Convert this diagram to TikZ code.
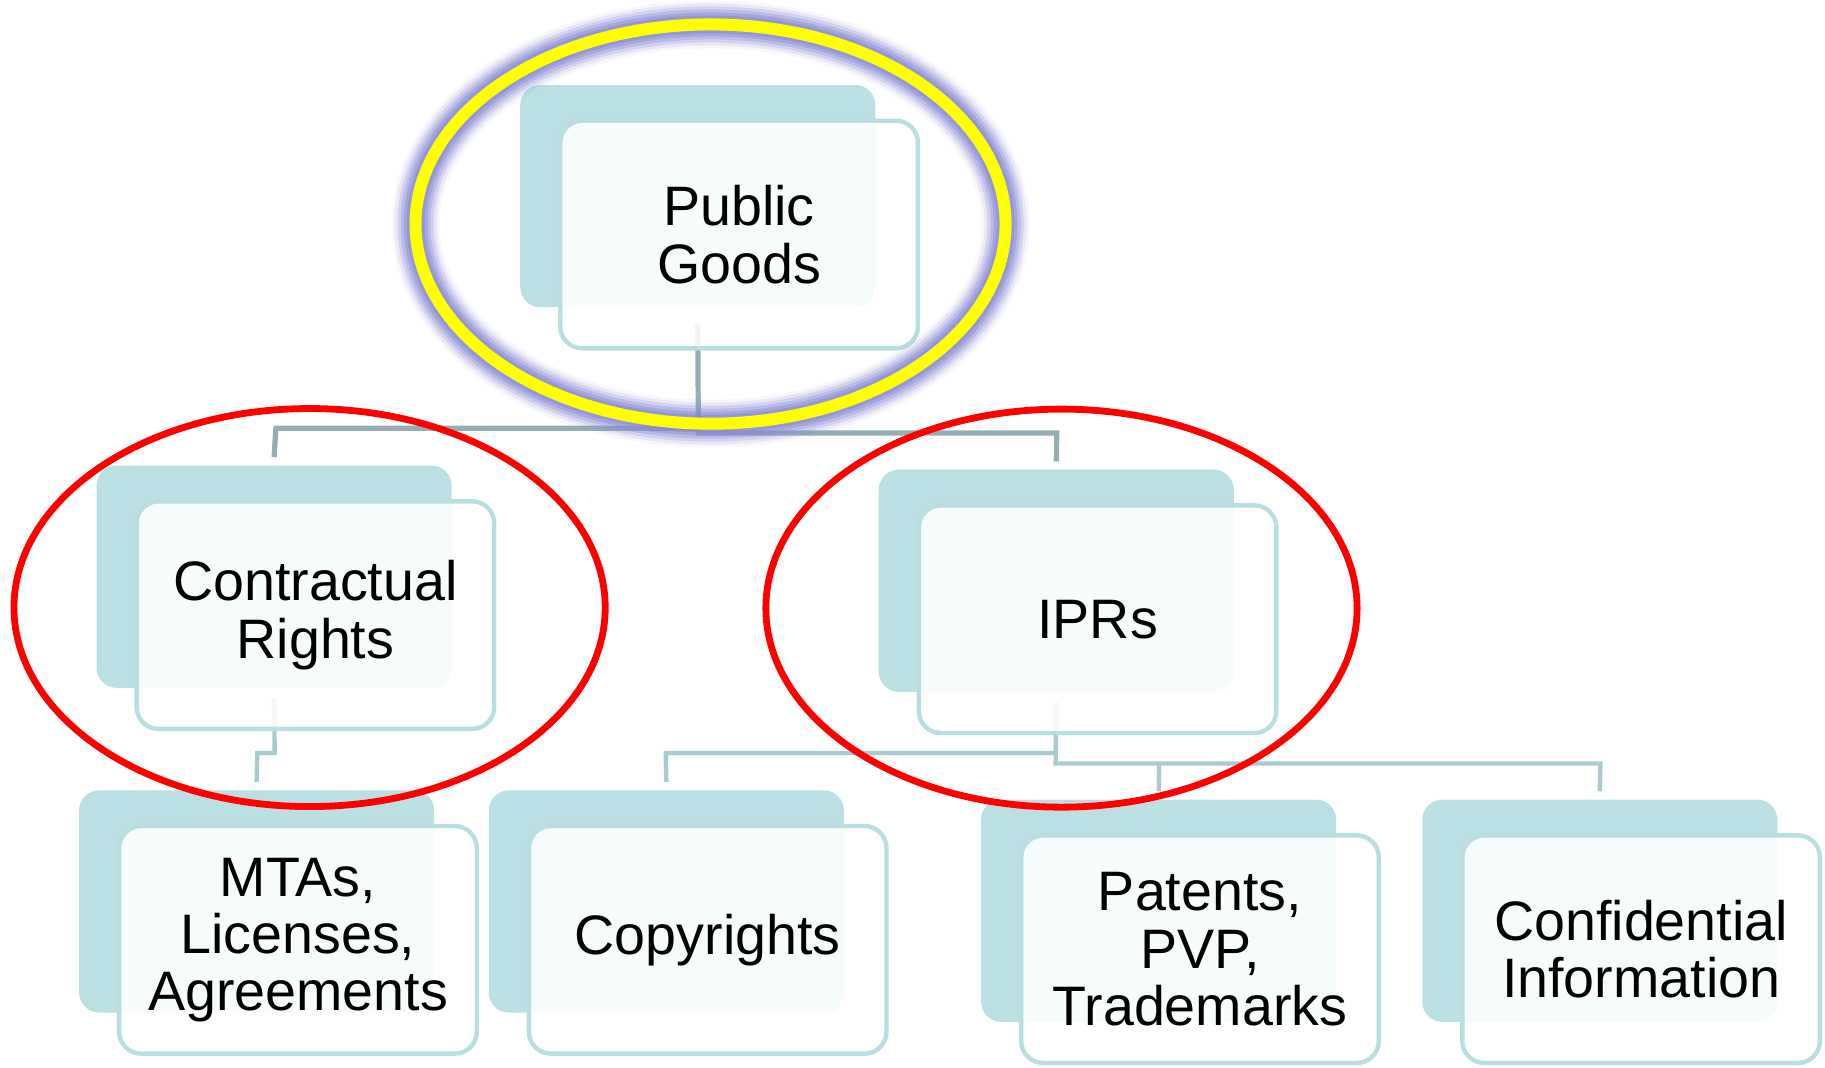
\documentclass[tikz,border=0pt]{standalone}
\usepackage{fontspec}
\setmainfont{Liberation Sans}
\definecolor{backc}{HTML}{BAE0E3}
\definecolor{frontbd}{HTML}{B8DEE2}
\definecolor{connA}{HTML}{94AEB4}
\definecolor{connB}{HTML}{A9CBCF}
\definecolor{glowc}{HTML}{8A8AD6}
\definecolor{ringY}{HTML}{FFFF00}
\definecolor{ringR}{HTML}{FF0000}
\tikzset{
  backbox/.style={rectangle, rounded corners=10pt, fill=backc, draw=none,
    minimum width=177.5pt, minimum height=111.1pt, inner sep=0pt},
  frontbox/.style={rectangle, rounded corners=11pt, fill=white, fill opacity=0.88,
    text opacity=1, draw=frontbd, line width=2.2pt,
    minimum width=178.8pt, minimum height=113.8pt, inner sep=0pt,
    align=center, font=\fontsize{27.8}{28.6}\selectfont},
  connhi/.style={draw=connA, line width=2.6pt},
  connlo/.style={draw=connB, line width=2.2pt},
  redring/.style={draw=ringR, line width=3.4pt},
}
\begin{document}
\begin{tikzpicture}[x=0.5819pt, y=-0.5819pt]
\useasboundingbox (0,0) rectangle (1568,917);
\coordinate (pgc) at (635,201.5);
\coordinate (crc) at (271,528.5);
\coordinate (ipc) at (943,532);
\coordinate (mtc) at (256,807.5);
\coordinate (coc) at (608,807.5);
\coordinate (pac) at (1031,815.5);
\coordinate (cfc) at (1410,815.5);
% junction coordinates
\coordinate (jpg) at (600,372);
\coordinate (jl) at (600,368);
\coordinate (jcr) at (237,368);
\coordinate (jip) at (908,372);
\coordinate (jcm1) at (236,647);
\coordinate (jcm2) at (221,647);
\coordinate (jil) at (907,647);
\coordinate (jco) at (572,647);
\coordinate (jir) at (907,656);
\coordinate (jpa) at (996,656);
\coordinate (jcf) at (1375,656);
% back box nodes
\node[backbox] (pgb) at ([shift={(-35.5,-33)}]pgc) {};
\node[backbox] (crb) at ([shift={(-35.5,-33)}]crc) {};
\node[backbox] (ipb) at ([shift={(-35.5,-33)}]ipc) {};
\node[backbox] (mtb) at ([shift={(-35.5,-33)}]mtc) {};
\node[backbox] (cob) at ([shift={(-35.5,-33)}]coc) {};
\node[backbox] (pab) at ([shift={(-35.5,-33)}]pac) {};
\node[backbox] (cfb) at ([shift={(-35.5,-33)}]cfc) {};
% connectors
\draw[connhi] ([yshift=-8pt]pgb.south) -- (jpg) -- (jip) -- ([yshift=4pt]ipb.north);
\draw[connhi] (jl) -- (jcr) -- ([yshift=4pt]crb.north);
\draw[connlo] ([yshift=-5pt]crb.south) -- (jcm1) -- (jcm2) -- ([yshift=4pt]mtb.north);
\draw[connlo] ([yshift=-5pt]ipb.south) -- (jir) -- (jcf) -- ([yshift=4pt]cfb.north);
\draw[connlo] (jil) -- (jco) -- ([yshift=4pt]cob.north);
\draw[connlo] (jpa) -- ([yshift=4pt]pab.north);
% front boxes
\node[frontbox] (pg) at (pgc) {Public\\Goods};
\node[frontbox] (cr) at (crc) {Contractual\\Rights};
\node[frontbox] (ip) at (ipc) {IPRs};
\node[frontbox] (mt) at (mtc) {MTAs,\\Licenses,\\Agreements};
\node[frontbox] (co) at (coc) {Copyrights};
\node[frontbox] (pa) at (pac) {Patents,\\PVP,\\Trademarks};
\node[frontbox] (cf) at (cfc) {Confidential\\Information};
% rings
\coordinate (pge) at (610.5,192.5);
\coordinate (cre) at (266,522);
\coordinate (ipe) at (912,522.5);
\foreach \w/\o in {24pt/0.08, 21pt/0.14, 18pt/0.22, 15pt/0.32, 12pt/0.45, 9pt/0.6}{
  \draw[glowc, line width=\w, opacity=\o] (pge) ellipse [x radius=147.5pt, y radius=99.8pt];
}
\draw[ringY, line width=6pt] (pge) ellipse [x radius=147.5pt, y radius=99.8pt];
\draw[redring] (cre) ellipse [x radius=147.8pt, y radius=99.5pt];
\draw[redring] (ipe) ellipse [x radius=147.8pt, y radius=99.5pt];
\end{tikzpicture}
\end{document}
